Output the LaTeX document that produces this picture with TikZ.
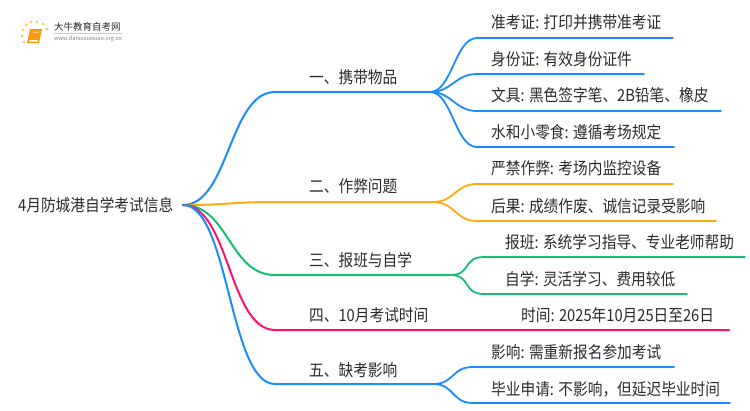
\documentclass[tikz,border=0pt]{standalone}
\usepackage{fontspec}
\setmainfont[FakeStretch=0.885]{Noto Sans CJK SC}
\newfontfamily\logofont{Noto Sans CJK SC}
\definecolor{mapblue}{HTML}{1A8CFF}
\definecolor{maporange}{HTML}{FFAA0D}
\definecolor{mapgreen}{HTML}{14C070}
\definecolor{mappink}{HTML}{FF0F6E}
\definecolor{maptext}{HTML}{2A2A2A}
\tikzset{
  maintext/.style={anchor=west,inner sep=0pt,text=maptext,font=\fontsize{16.6}{18}\selectfont},
  mainline/.style={line width=2pt,line cap=round},
  leafline/.style={line width=1.8pt,line cap=round}
}
\begin{document}
\begin{tikzpicture}[x=1pt,y=-1pt]
\useasboundingbox (0,0) rectangle (750,410);
\coordinate (root) at (183,205);
\node[maintext] (title) at (18,205) {4月防城港自学考试信息};

\coordinate (carry) at (275,92);
\coordinate (carryfork) at (430,92);
\coordinate (cheat) at (275,202);
\coordinate (cheatfork) at (433,202);
\coordinate (study) at (275,275);
\coordinate (studyfork) at (450,275);
\coordinate (time) at (275,330);
\coordinate (timeend) at (729,330);
\coordinate (absent) at (275,384);
\coordinate (absentfork) at (433,384);

\draw[mainline,mapblue] (root) .. controls +(46,0) and +(-46,0) .. (carry) -- (carryfork);
\draw[mainline,maporange] (root) .. controls +(46,0) and +(-46,0) .. (cheat) -- (cheatfork);
\draw[mainline,mapgreen] (root) .. controls +(46,0) and +(-46,0) .. (study) -- (studyfork);
\draw[mainline,mappink] (root) .. controls +(46,0) and +(-46,0) .. (time) -- (timeend);
\draw[mainline,mapblue] (root) .. controls +(46,0) and +(-46,0) .. (absent) -- (absentfork);

\node[maintext] (carrytext) at (309,77) {一、携带物品};
\node[maintext] (cheattext) at (309,186) {二、作弊问题};
\node[maintext] (studytext) at (309,260) {三、报班与自学};
\node[maintext] (timetext) at (309,315) {四、10月考试时间};
\node[maintext] (absenttext) at (309,370) {五、缺考影响};

\foreach \name/\fork/\col/\ya/\xa/\xb in {
  ticket/carryfork/mapblue/38/477/673,
  idcard/carryfork/mapblue/74/477/644,
  pens/carryfork/mapblue/111/477/721,
  snack/carryfork/mapblue/147/477/674,
  ban/cheatfork/maporange/184/477/673,
  result/cheatfork/maporange/221/477/716,
  course/studyfork/mapgreen/257/484/745,
  self/studyfork/mapgreen/294/484/687,
  effect/absentfork/mapblue/367/473/674,
  degree/absentfork/mapblue/403/473/730}{
  \coordinate (\name a) at (\xa,\ya);
  \coordinate (\name b) at (\xb,\ya);
  \draw[leafline,\col] (\fork) .. controls +(22,0) and +(-22,0) .. (\name a) -- (\name b);
}

\node[maintext] (tickettext) at (491,22) {准考证: 打印并携带准考证};
\node[maintext] (idcardtext) at (491,59) {身份证: 有效身份证件};
\node[maintext] (penstext) at (491,95) {文具: 黑色签字笔、2B铅笔、橡皮};
\node[maintext] (snacktext) at (491,132) {水和小零食: 遵循考场规定};
\node[maintext] (bantext) at (491,168) {严禁作弊: 考场内监控设备};
\node[maintext] (resulttext) at (491,206) {后果: 成绩作废、诚信记录受影响};
\node[maintext] (coursetext) at (505,242) {报班: 系统学习指导、专业老师帮助};
\node[maintext] (selftext) at (505,279) {自学: 灵活学习、费用较低};
\node[maintext] (datetext) at (521,315) {时间: 2025年10月25日至26日};
\node[maintext] (effecttext) at (491,352) {影响: 需重新报名参加考试};
\node[maintext] (degreetext) at (491,389) {毕业申请: 不影响，但延迟毕业时间};

\foreach \x/\y in {26/25,31/22,37/22,43/24,47/29,23/30,22/36,24/42}
\fill[maporange!60] (\x,\y) circle (1.7);
\fill[maporange!90!red] (30,29) -- (42,29) -- (39,43) -- (27,43) -- cycle;
\fill[white] (29.5,40) -- (38,40) -- (37.6,41.5) -- (29.2,41.5) -- cycle;
\fill[white,opacity=0.5] (33,31.5) -- (39,31.5) -- (38.6,33) -- (32.7,33) -- cycle;
\node[anchor=west,inner sep=0pt,text=maptext,font=\logofont\fontsize{9.5}{10}\selectfont] (logoname) at (54,27) {大牛教育自考网};
\draw[gray!40,line width=0.5pt] (54,33) -- (122,33);
\node[anchor=west,inner sep=0pt,text=gray,font=\logofont\fontsize{5.6}{6}\selectfont] (logourl) at (54,38.5) {www.daniuxuexiao.org.cn};
\end{tikzpicture}
\end{document}
